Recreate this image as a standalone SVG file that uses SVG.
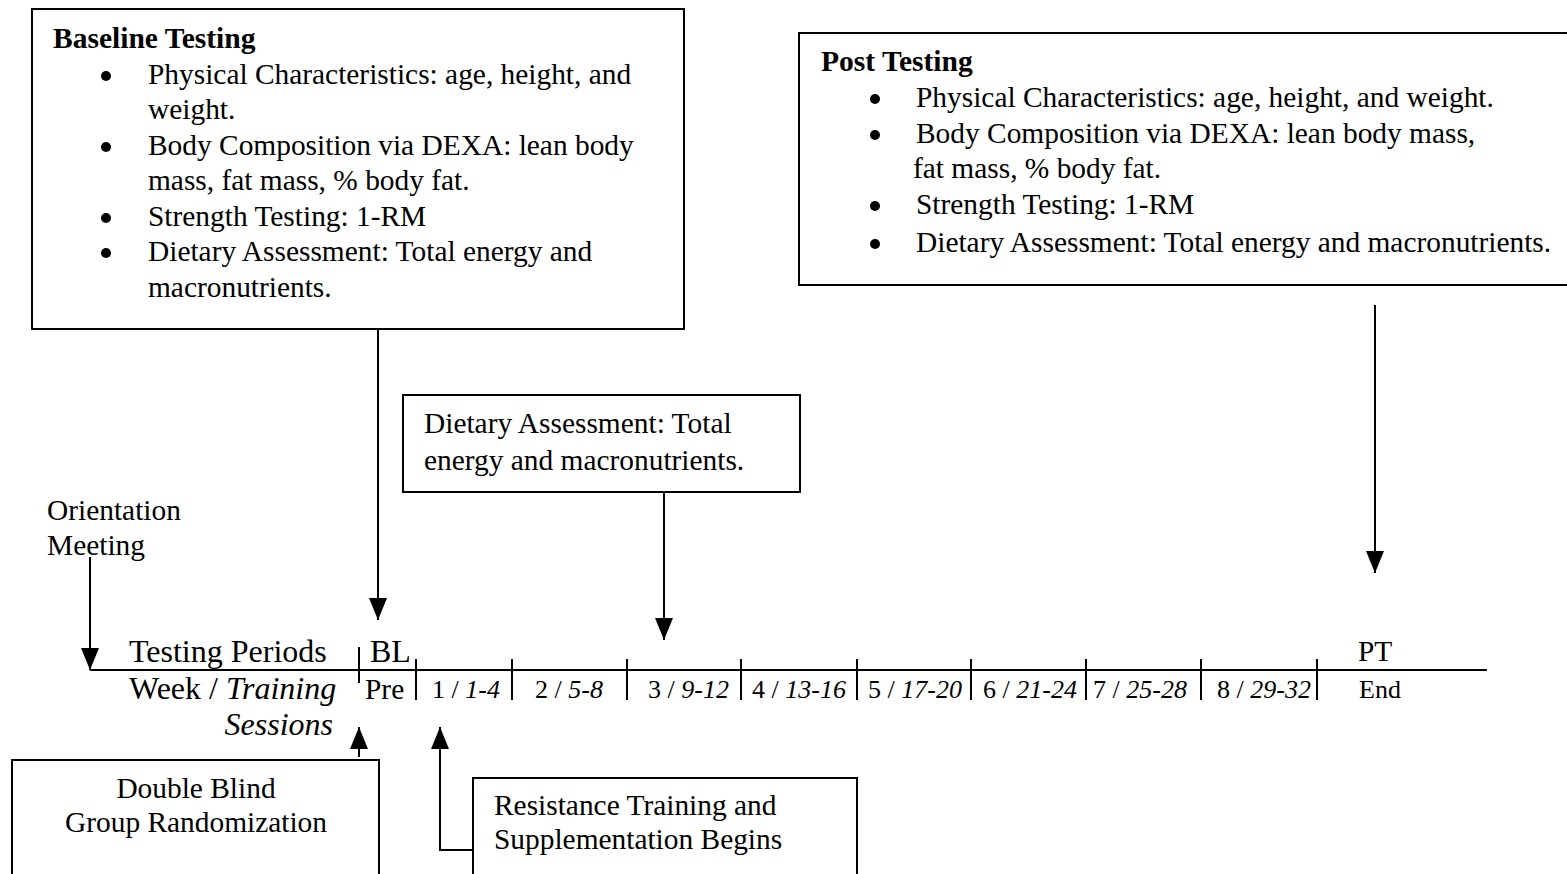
<svg xmlns="http://www.w3.org/2000/svg" width="1567" height="874" viewBox="0 0 1567 874">
<style>
text{font-family:"Liberation Serif","Times New Roman",serif;fill:#000}
.t{font-size:29.4px}
.b{font-size:29.5px;font-weight:bold}
.L{font-size:32px}
.w{font-size:26px}
.i{font-style:italic}
.box{fill:#fff;stroke:#000;stroke-width:2}
.ln{fill:none;stroke:#000;stroke-width:2}
.arr{fill:none;stroke:#000;stroke-width:2;marker-end:url(#ah)}
.dot{fill:#000}
</style>
<defs>
<marker id="ah" viewBox="0 0 22 18" refX="22" refY="9" markerWidth="22" markerHeight="18" markerUnits="userSpaceOnUse" orient="auto">
<path d="M0,0 L22,9 L0,18 Z" fill="#000"/>
</marker>
</defs>
<rect width="1567" height="874" fill="#fff"/>

<g id="baseline">
<rect class="box" x="32" y="9" width="652" height="320"/>
<text class="b" x="53" y="48">Baseline Testing</text>
<circle class="dot" cx="106" cy="76" r="5"/>
<circle class="dot" cx="106" cy="147" r="5"/>
<circle class="dot" cx="106" cy="218" r="5"/>
<circle class="dot" cx="106" cy="253" r="5"/>
<g class="t">
<text x="148" y="84">Physical Characteristics: age, height, and</text>
<text x="148" y="119">weight.</text>
<text x="148" y="155">Body Composition via DEXA: lean body</text>
<text x="148" y="190">mass, fat mass, % body fat.</text>
<text x="148" y="226">Strength Testing: 1-RM</text>
<text x="148" y="261">Dietary Assessment: Total energy and</text>
<text x="148" y="297">macronutrients.</text>
</g>
</g>

<g id="post">
<rect class="box" x="799" y="33" width="780" height="252"/>
<text class="b" x="821" y="71">Post Testing</text>
<circle class="dot" cx="875" cy="99" r="5"/>
<circle class="dot" cx="875" cy="135" r="5"/>
<circle class="dot" cx="875" cy="206" r="5"/>
<circle class="dot" cx="875" cy="244" r="5"/>
<g class="t">
<text x="916" y="107">Physical Characteristics: age, height, and weight.</text>
<text x="916" y="143">Body Composition via DEXA: lean body mass,</text>
<text x="913" y="178">fat mass, % body fat.</text>
<text x="916" y="214">Strength Testing: 1-RM</text>
<text x="916" y="252">Dietary Assessment: Total energy and macronutrients.</text>
</g>
</g>

<g id="dietary">
<rect class="box" x="403" y="395" width="397" height="97"/>
<text class="t" x="424" y="433">Dietary Assessment: Total</text>
<text class="t" x="424" y="470">energy and macronutrients.</text>
</g>

<g id="orientation">
<text class="t" x="47" y="520">Orientation</text>
<text class="t" x="47" y="555">Meeting</text>
</g>

<g id="randomization">
<rect class="box" x="12" y="760" width="367" height="130"/>
<text class="t" x="196" y="798" text-anchor="middle">Double Blind</text>
<text class="t" x="196" y="832" text-anchor="middle">Group Randomization</text>
</g>

<g id="resistance">
<rect class="box" x="473" y="778" width="384" height="110"/>
<text class="t" x="494" y="815">Resistance Training and</text>
<text class="t" x="494" y="849">Supplementation Begins</text>
</g>

<g id="timeline">
<path class="ln" d="M90,670 H1487"/>
<path class="ln" d="M359,647 V683 M416,659 V700 M512,659 V700 M627,659 V700 M741,659 V700 M857,659 V700 M971,659 V700 M1086,659 V700 M1201,659 V700 M1317,659 V700"/>
<text class="L" x="129" y="662">Testing Periods</text>
<text class="L" x="370" y="662">BL</text>
<text class="t" x="1358" y="661">PT</text>
<text class="L" x="129" y="699">Week / <tspan class="i">Training</tspan></text>
<text class="L i" x="333" y="735" text-anchor="end">Sessions</text>
<text class="t" x="365" y="699">Pre</text>
<g class="w">
<text x="432" y="698">1 / <tspan class="i">1-4</tspan></text>
<text x="535" y="698">2 / <tspan class="i">5-8</tspan></text>
<text x="648" y="698">3 / <tspan class="i">9-12</tspan></text>
<text x="752" y="698">4 / <tspan class="i">13-16</tspan></text>
<text x="868" y="698">5 / <tspan class="i">17-20</tspan></text>
<text x="983" y="698">6 / <tspan class="i">21-24</tspan></text>
<text x="1093" y="698">7 / <tspan class="i">25-28</tspan></text>
<text x="1217" y="698">8 / <tspan class="i">29-32</tspan></text>
<text x="1359" y="698">End</text>
</g>
</g>

<g id="connectors">
<path class="arr" d="M90,557 V670"/>
<path class="arr" d="M378,329 V620"/>
<path class="arr" d="M664,492 V640"/>
<path class="arr" d="M1375,305 V573"/>
<path class="arr" d="M359,757 V727"/>
<path class="arr" d="M473,850 H440 V727"/>
</g>
</svg>
